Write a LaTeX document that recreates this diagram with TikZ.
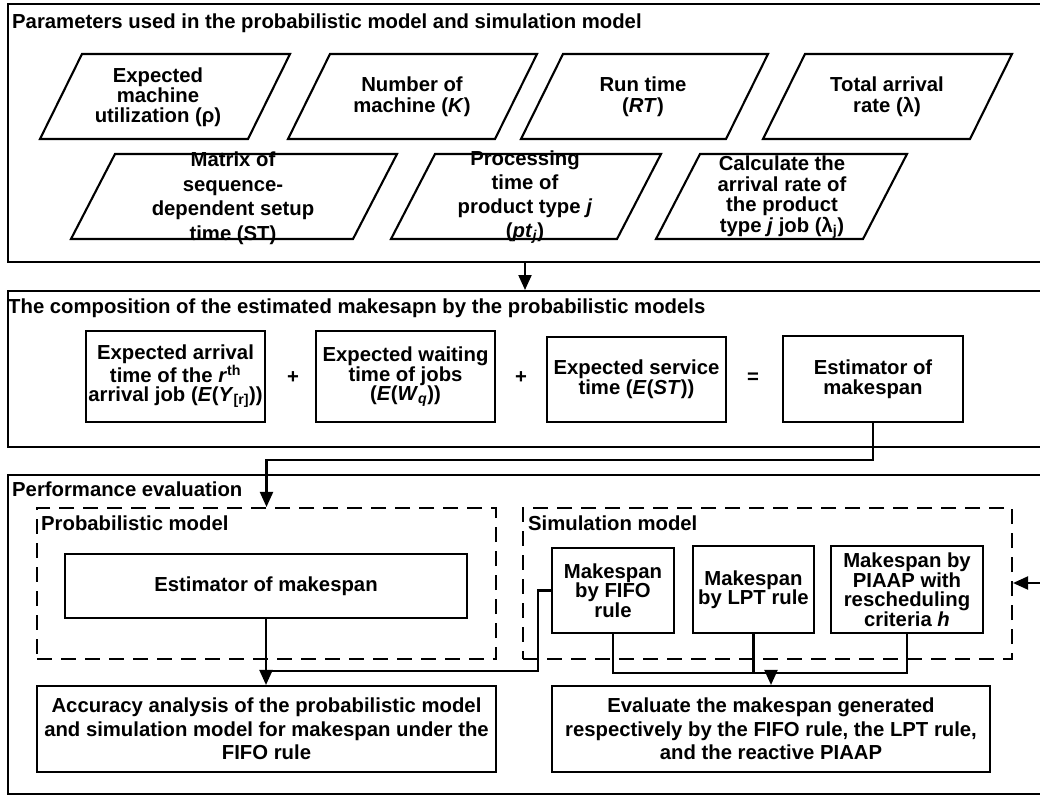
\documentclass[tikz,border=0pt]{standalone}
\usepackage{fontspec}
\setmainfont{Liberation Sans}
\usetikzlibrary{arrows.meta}
\newcommand{\fs}[1]{\bfseries\fontsize{20.3}{#1}\selectfont}
\newcommand{\para}[5]{% TLx, ytop, ybot, width, slant
  \draw[pl] (#1,#2) -- ({#1+#4},#2) -- ({#1+#4-#5},#3) -- ({#1-#5},#3) -- cycle;}
\begin{document}
\begin{tikzpicture}[x=1pt,y=-1pt,
  every node/.style={inner sep=0pt, font=\fs{20}},
  outer/.style={draw, line width=2.4pt, anchor=north west},
  pl/.style={draw, line width=2.1pt, line join=miter},
  bx/.style={draw, line width=2.1pt, align=center},
  dbox/.style={draw, line width=2.1pt, dash pattern=on 15pt off 9pt},
  txt/.style={align=center},
  ln/.style={line width=2.1pt},
  arr/.style={line width=2.1pt, -{Triangle[length=15pt,width=13pt]}},
  ttl/.style={anchor=base west}]
\useasboundingbox (0,0) rectangle (1040,795);
\clip (0,0) rectangle (1040,795);

% outer boxes
\node[outer, minimum width=1045pt, minimum height=258pt] (box1) at (7,3) {};
\node[outer, minimum width=1045pt, minimum height=156pt] (box2) at (7,290) {};
\node[outer, minimum width=1045pt, minimum height=319pt] (box3) at (7,474) {};

\node[ttl] (t1) at (12,28) {Parameters used in the probabilistic model and simulation model};
\node[ttl] (t2) at (8,313) {The composition of the estimated makesapn by the probabilistic models};
\node[ttl] (t3) at (12,496) {Performance evaluation};

% parallelograms row 1
\para{82}{54}{139}{208}{42}
\para{330}{54}{139}{207}{42}
\para{563}{54}{139}{205}{42}
\para{805}{54}{139}{207}{42}
\node[txt, font=\fs{20}] (p1) at (158,97) {Expected\\machine\\utilization (ρ)};
\node[txt, font=\fs{21}] (p2) at (412,97) {Number of\\machine (\textit{K})};
\node[txt, font=\fs{21}] (p3) at (643,97) {Run time\\(\textit{RT})};
\node[txt, font=\fs{21}] (p4) at (887,97) {Total arrival\\rate (λ)};

% parallelograms row 2
\para{115}{154}{239}{282}{44}
\para{435}{154}{239}{226}{44}
\para{700}{154}{239}{207}{44}
\node[txt, font=\fs{24.5}] (q1) at (233,198) {Matrix of\\sequence-\\dependent setup\\time (ST)};
\node[txt, font=\fs{24}] (q2) at (525,197) {Processing\\time of\\product type \textit{j}\\(\textit{pt}\textsubscript{\textit{j}})};
\node[txt, font=\fs{20.5}] (q3) at (782,197) {Calculate the\\arrival rate of\\the product\\type \textit{j} job (λ\textsubscript{j})};

\coordinate (a1) at (525,0);
\draw[arr] (box1.south -| a1) -- (box2.north -| a1);

% composition
\node[bx, font=\fs{19}, minimum width=179pt, minimum height=91pt] (A) at (175.5,376.5)
  {Expected arrival\\time of the \textit{r}\textsuperscript{th}\\arrival job (\textit{E}(\textit{Y}\textsubscript{[r]}))};
\node[bx, font=\fs{19}, minimum width=179pt, minimum height=91pt] (B) at (405.5,376.5)
  {Expected waiting\\time of jobs\\(\textit{E}(\textit{W}\textsubscript{\textit{q}}))};
\node[bx, font=\fs{20}, minimum width=179pt, minimum height=85pt] (C) at (636.5,379.5)
  {Expected service\\time (\textit{E}(\textit{ST}))};
\node[bx, font=\fs{20}, minimum width=180pt, minimum height=86pt] (D) at (873,379)
  {Estimator of\\makespan};
\node (plus1) at (293,378) {+};
\node (plus2) at (521,378) {+};
\node (eq) at (753,378) {=};

% performance evaluation
\node[dbox, minimum width=459pt, minimum height=151pt] (prob) at (266.5,583.5) {};
\node[dbox, minimum width=489pt, minimum height=151pt] (sim) at (767.5,583.5) {};
\node[ttl] (lp) at (41,530) {Probabilistic model};
\node[ttl] (ls) at (528,530) {Simulation model};

\node[bx, minimum width=402pt, minimum height=64pt] (est) at (266,586) {Estimator of makespan};
\node[bx, font=\fs{23.5}, minimum width=459pt, minimum height=86pt] (acc) at (266.5,729)
  {Accuracy analysis of the probabilistic model\\and simulation model for makespan under the\\FIFO rule};
\node[bx, font=\fs{19.5}, minimum width=122pt, minimum height=85pt] (fifo) at (613,590.5)
  {Makespan\\by FIFO\\rule};
\node[bx, font=\fs{19.5}, minimum width=121pt, minimum height=87pt] (lpt) at (753.5,589.5)
  {Makespan\\by LPT rule};
\node[bx, font=\fs{19.5}, minimum width=152pt, minimum height=87pt] (pia) at (907,589.5)
  {Makespan by\\PIAAP with\\rescheduling\\criteria \textit{h}};
\node[bx, font=\fs{23.5}, minimum width=438pt, minimum height=86pt] (eval) at (771,729)
  {Evaluate the makespan generated\\respectively by the FIFO rule, the LPT rule,\\and the reactive PIAAP};

% connectors
\draw[arr] (D.south) -- ++(0,37) -| (prob.north);
\draw[arr] (est.south) -- (est.south |- acc.north);
\coordinate (f1) at (538,671);
\draw[ln] (fifo.west) -| (f1) -- (f1 -| est.south);
\path (fifo.south) ++(0,39) coordinate (hb);
\draw[ln] (fifo.south) -- (hb) -| (pia.south);
\draw[ln] (lpt.south) -- (lpt.south |- hb);
\coordinate (m) at (eval.north |- hb);
\draw[arr] (m) -- (eval.north);
\coordinate (rin) at (1046,583);
\draw[arr] (rin) -- (rin -| sim.east);
\end{tikzpicture}
\end{document}
